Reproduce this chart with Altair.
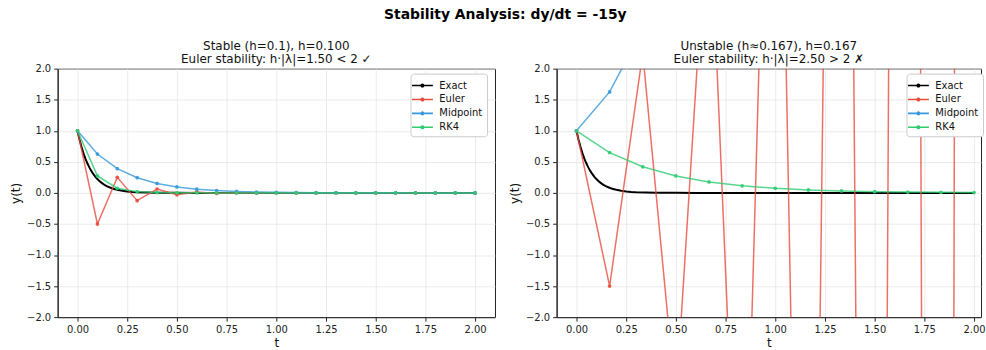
import altair as alt
import pandas as pd

# ---------------- data ----------------
exact_t = [0.0, 0.01, 0.02, 0.03, 0.04, 0.05, 0.06, 0.07, 0.08, 0.09, 0.10,
           0.11, 0.12, 0.13, 0.14, 0.15, 0.16, 0.17, 0.18, 0.19, 0.20,
           0.225, 0.25, 0.275, 0.30, 0.35, 0.40, 0.50, 0.60, 0.80, 1.00,
           1.25, 1.50, 1.75, 2.00]
exact_y = [1.0, 0.8607, 0.7408, 0.6376, 0.5488, 0.4724, 0.4066, 0.3499, 0.3012,
           0.2592, 0.2231, 0.1920, 0.1653, 0.1423, 0.1225, 0.1054, 0.0907,
           0.0781, 0.0672, 0.0578, 0.0498, 0.0342, 0.0235, 0.0162, 0.0111,
           0.0052, 0.0025, 0.00055, 0.00012, 0.000006, 0.0, 0.0, 0.0, 0.0, 0.0]

# stable case h = 0.1
s_t = [0.0, 0.1, 0.2, 0.3, 0.4, 0.5, 0.6, 0.7, 0.8, 0.9, 1.0,
       1.1, 1.2, 1.3, 1.4, 1.5, 1.6, 1.7, 1.8, 1.9, 2.0]
s_euler = [1.0, -0.5, 0.25, -0.125, 0.0625, -0.03125, 0.0156, -0.0078, 0.0039,
           -0.002, 0.001, -0.0005, 0.0002, -0.0001, 0.0001, 0.0, 0.0, 0.0, 0.0, 0.0, 0.0]
s_mid = [1.0, 0.625, 0.3906, 0.2441, 0.1526, 0.0954, 0.0596, 0.0373, 0.0233,
         0.0146, 0.0091, 0.0057, 0.0036, 0.0022, 0.0014, 0.0009, 0.0005,
         0.0003, 0.0002, 0.0001, 0.0001]
s_rk4 = [1.0, 0.2734, 0.0748, 0.0204, 0.0056, 0.0015, 0.0004, 0.0001, 0.0,
         0.0, 0.0, 0.0, 0.0, 0.0, 0.0, 0.0, 0.0, 0.0, 0.0, 0.0, 0.0]

# unstable case h = 1/6
u_t = [0.0, 0.1667, 0.3333, 0.5, 0.6667, 0.8333, 1.0, 1.1667, 1.3333,
       1.5, 1.6667, 1.8333, 2.0]
u_euler = [1.0, -1.5, 2.25, -3.375, 5.0625, -7.594, 11.39, -17.09, 25.63,
           -38.44, 57.67, -86.5, 129.7]
u_mid = [1.0, 1.625, 2.641, 4.291, 6.973, 11.33, 18.41, 29.92, 48.62,
         79.0, 128.4, 208.6, 339.0]
u_rk4 = [1.0, 0.6484, 0.4205, 0.2726, 0.1768, 0.1146, 0.0743, 0.0482,
         0.0313, 0.0203, 0.0131, 0.0085, 0.0055]

methods = ["Exact", "Euler", "Midpoint", "RK4"]
colors = ["#000000", "#e74c3c", "#3498db", "#2ecc71"]

x_ticks = [0.0, 0.25, 0.5, 0.75, 1.0, 1.25, 1.5, 1.75, 2.0]
y_ticks = [-2.0, -1.5, -1.0, -0.5, 0.0, 0.5, 1.0, 1.5, 2.0]


def build_df(t, euler, mid, rk4):
    rows = [{"t": a, "y": b, "method": "Exact"} for a, b in zip(exact_t, exact_y)]
    for name, vals in (("Euler", euler), ("Midpoint", mid), ("RK4", rk4)):
        rows += [{"t": a, "y": b, "method": name} for a, b in zip(t, vals)]
    return pd.DataFrame(rows)


LEGEND_SYMBOL = "M-1.5,0L1.5,0M0.18,0A0.18,0.18,0,1,1,-0.18,0A0.18,0.18,0,1,1,0.18,0"


def panel(df, title_lines, width, xmax, legend_x):
    x = alt.X("t:Q", title="t",
              scale=alt.Scale(domain=[-0.1, xmax], nice=False, zero=False),
              axis=alt.Axis(values=x_ticks, format=".2f"))
    y = alt.Y("y:Q", title="y(t)",
              scale=alt.Scale(domain=[-2, 2], nice=False, zero=False),
              axis=alt.Axis(values=y_ticks, format=".1f"))
    cscale = alt.Scale(domain=methods, range=colors)
    color = alt.Color("method:N", scale=cscale,
                      legend=alt.Legend(title=None, orient="none",
                                        legendX=legend_x, legendY=5,
                                        symbolType=LEGEND_SYMBOL, symbolSize=196,
                                        symbolStrokeWidth=1.6, labelFontSize=10,
                                        labelOffset=9, padding=4, rowPadding=1,
                                        strokeColor="#cccccc", fillColor="white",
                                        cornerRadius=3, labelColor="#111111"))
    exact = alt.Chart(df).transform_filter("datum.method == 'Exact'").mark_line(
        clip=True, strokeWidth=2).encode(x=x, y=y, color=color, order="t:Q")
    meth = alt.Chart(df).transform_filter("datum.method != 'Exact'").mark_line(
        clip=True, strokeWidth=1.5, opacity=0.8).encode(
        x=x, y=y, color=alt.Color("method:N", scale=cscale, legend=None),
        detail="method:N")
    pts = alt.Chart(df).transform_filter("datum.method != 'Exact'").mark_circle(
        clip=True, size=14, opacity=0.9).encode(
        x=x, y=y, color=alt.Color("method:N", scale=cscale, legend=None))
    return alt.layer(exact, meth, pts).properties(
        width=width, height=250,
        title=alt.TitleParams(title_lines, fontSize=12, fontWeight="normal",
                              lineHeight=13, offset=-2, color="#111111",
                              font="DejaVu Sans"))


left = panel(build_df(s_t, s_euler, s_mid, s_rk4),
             ["Stable (h=0.1), h=0.100", "Euler stability: h·|λ|=1.50 < 2 ✓"],
             440, 2.1, 355)
right = panel(build_df(u_t, u_euler, u_mid, u_rk4),
              ["Unstable (h≈0.167), h=0.167", "Euler stability: h·|λ|=2.50 > 2 ✗"],
              427, 2.035, 352)

chart = alt.hconcat(left, right, spacing=12).resolve_scale(color="independent").resolve_legend(
    color="independent").properties(
    title=alt.TitleParams("Stability Analysis: dy/dt = -15y", fontSize=14, fontWeight="bold",
                          anchor="middle", font="DejaVu Sans", offset=17, color="#000000",
                          dx=8),
    padding={"left": 9, "top": 7, "right": 0, "bottom": 0},
).configure(font="DejaVu Sans").configure_view(
    stroke="#222222", strokeWidth=1
).configure_axis(
    domainColor="#222222", tickColor="#222222", labelColor="#222222",
    labelFontSize=10, titleFontSize=12, titleFontWeight="normal", titleColor="#111111",
    gridColor="#e6e6e6", gridWidth=0.8, tickSize=4, labelPadding=3, titlePadding=4,
    labelFont="DejaVu Sans", titleFont="DejaVu Sans"
).configure_legend(labelFont="DejaVu Sans")

chart.save("out.html", embed_options={"renderer": "svg", "actions": False})
